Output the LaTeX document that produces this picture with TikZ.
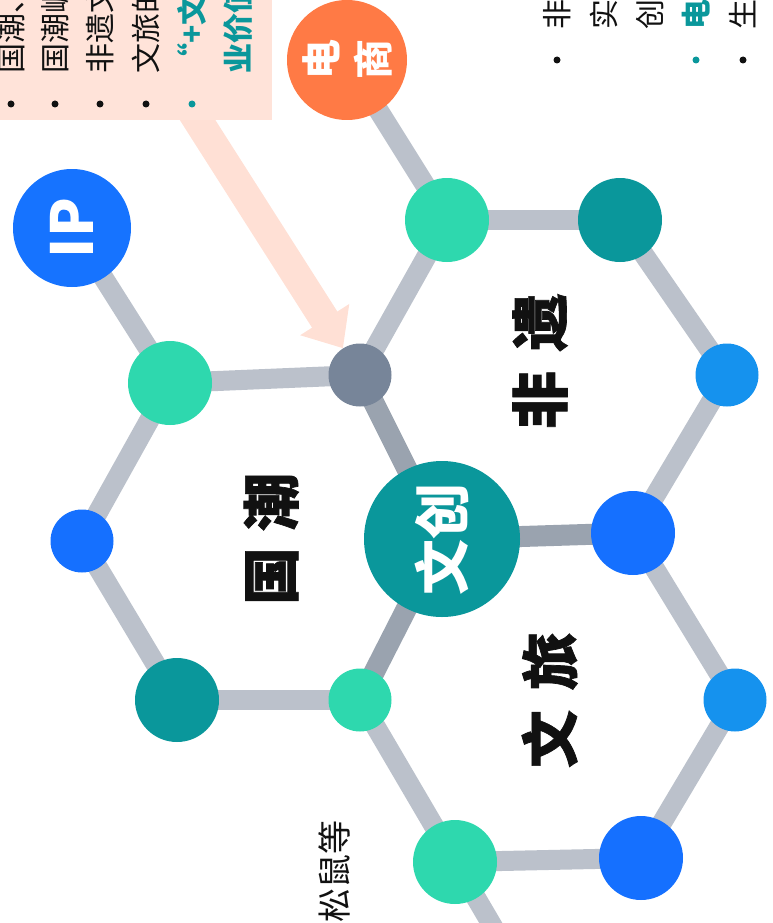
\documentclass[tikz,border=0pt]{standalone}
\usepackage{fontspec}
\setmainfont{Noto Sans CJK SC}
\newfontfamily\heavyfont{Noto Sans CJK SC}[BoldFeatures={FakeBold=1.2}]
\usetikzlibrary{arrows.meta}
\pgfdeclarelayer{bg}
\pgfsetlayers{bg,main}
\definecolor{orangeN}{HTML}{FF7A45}
\definecolor{ipblue}{HTML}{1673FF}
\definecolor{mint}{HTML}{2ED8AE}
\definecolor{tealN}{HTML}{0A979B}
\definecolor{slate}{HTML}{778599}
\definecolor{sky}{HTML}{1592EE}
\definecolor{blueN}{HTML}{1570FF}
\definecolor{edgeL}{HTML}{BBC1CB}
\definecolor{edgeD}{HTML}{9AA3AF}
\definecolor{peach}{HTML}{FFE3D9}
\definecolor{peachA}{HTML}{FFE0D5}
\definecolor{ink}{HTML}{111111}
\tikzset{
  bigdot/.style={circle,fill=#1,inner sep=0pt,minimum size=84pt},
  smalldot/.style={circle,fill=#1,inner sep=0pt,minimum size=63pt},
  link/.style={line width=20pt,edgeL},
  darklink/.style={line width=21pt,edgeD},
  vtext/.style={rotate=90,anchor=west,inner sep=0pt,text height=26.4pt,text depth=3.6pt,
    font=\fontsize{30}{30}\selectfont,text=ink},
  hexlabel/.style={rotate=90,inner sep=0pt,text height=51pt,text depth=7pt,
    font=\heavyfont\fontsize{58}{58}\selectfont\bfseries,text=ink},
  bullet/.style={circle,fill=#1,inner sep=0pt,minimum size=7pt},
  callarrow/.style={line width=30pt,peachA,-{Triangle[width=56pt,length=34pt]}},
}
\begin{document}
\begin{tikzpicture}[x=1pt,y=-1pt]
\useasboundingbox (0,0) rectangle (772,923);
\clip (0,0) rectangle (772,923);

% callout box
\node[fill=peach,inner sep=0pt,minimum width=292pt,minimum height=140pt,anchor=south east] (callout) at (272,120) {};

% nodes
\node[circle,fill=orangeN,inner sep=0pt,minimum size=120pt,rotate=90,align=center,
  font=\fontsize{40}{52}\selectfont\bfseries,text=white] (dianshang) at (347,60) {电\\商};
\node[circle,fill=ipblue,inner sep=0pt,minimum size=118pt,rotate=90,
  font=\fontsize{58}{58}\selectfont\bfseries,text=white] (ip) at (72,228) {IP};
\node[bigdot=mint] (g1) at (447,220) {};
\node[bigdot=tealN] (t1) at (620,220) {};
\node[smalldot=slate] (s1) at (360,375) {};
\node[bigdot=mint] (g2) at (170,383) {};
\node[smalldot=sky] (k1) at (727,375) {};
\node[smalldot=blueN] (b1) at (82,541) {};
\node[circle,fill=tealN,inner sep=0pt,minimum size=156pt,rotate=90,text height=49.3pt,text depth=6.7pt,
  font=\fontsize{56}{56}\selectfont\bfseries,text=white] (wc) at (442,539) {文创};
\node[bigdot=blueN] (b2) at (633,533) {};
\node[bigdot=tealN] (t2) at (177,700) {};
\node[smalldot=mint] (g3) at (360,700) {};
\node[smalldot=sky] (k2) at (735,700) {};
\node[bigdot=mint] (g4) at (455,862) {};
\node[bigdot=blueN] (b3) at (641,858) {};
\coordinate (off) at (550,1024);
\coordinate (arrowstart) at (188,105);

\begin{pgfonlayer}{bg}
  \draw[link] (dianshang.center) -- (g1.center);
  \draw[link] (ip.center) -- (g2.center);
  \draw[link] (g1.center) -- (t1.center);
  \draw[link] (g1.center) -- (s1.center);
  \draw[link] (t1.center) -- (k1.center);
  \draw[link] (g2.center) -- (s1.center);
  \draw[link] (g2.center) -- (b1.center);
  \draw[link] (k1.center) -- (b2.center);
  \draw[link] (b1.center) -- (t2.center);
  \draw[link] (b2.center) -- (k2.center);
  \draw[link] (t2.center) -- (g3.center);
  \draw[link] (g3.center) -- (g4.center);
  \draw[link] (k2.center) -- (b3.center);
  \draw[link] (g4.center) -- (b3.center);
  \draw[link] (g4.center) -- (off);
  \draw[darklink] (s1.center) -- (wc.center);
  \draw[darklink] (wc.center) -- (b2.center);
  \draw[darklink] (wc.center) -- (g3.center);
  \draw[callarrow] (arrowstart) -- (s1);
\end{pgfonlayer}

% hexagon labels
\node[hexlabel] (lguochao) at (271,539) {国\hspace{16pt}潮};
\node[hexlabel] (lfeiyi) at (540,361) {非\hspace{20pt}遗};
\node[hexlabel] (lwenlv) at (550,700) {文\hspace{20pt}旅};

% callout list
\node[vtext] (c1) at (11,74) {国潮、非遗};
\node[vtext] (c2) at (55,74) {国潮崛起};
\node[vtext] (c3) at (100,74) {非遗文化};
\node[vtext] (c4) at (146,74) {文旅的};
\node[vtext,text=tealN,font=\fontsize{30}{30}\selectfont\bfseries] (c5) at (192,74) {“+文创”};
\node[vtext,text=tealN,font=\fontsize{30}{30}\selectfont\bfseries] (c6) at (238,74) {业价值};
\node[bullet=ink] (cb1) at (11,104) {};
\node[bullet=ink] (cb2) at (55,104) {};
\node[bullet=ink] (cb3) at (100,104) {};
\node[bullet=ink] (cb4) at (146,104) {};
\node[bullet=tealN] (cb5) at (192,104) {};

% right list
\node[vtext] (r1) at (557,30) {非遗};
\node[vtext] (r2) at (604,30) {实体};
\node[vtext] (r3) at (650,30) {创意};
\node[vtext,text=tealN,font=\fontsize{30}{30}\selectfont\bfseries] (r4) at (696,30) {电商};
\node[vtext] (r5) at (743,30) {生活};
\node[bullet=ink] (rb1) at (557,60) {};
\node[bullet=tealN] (rb4) at (696,60) {};
\node[bullet=ink] (rb5) at (743,60) {};

% bottom text
\node[rotate=90,anchor=east,inner sep=0pt,text height=30pt,text depth=4pt,
  font=\fontsize{34}{34}\selectfont,text=ink] (bt) at (334,820) {三只松鼠等};
\end{tikzpicture}
\end{document}
